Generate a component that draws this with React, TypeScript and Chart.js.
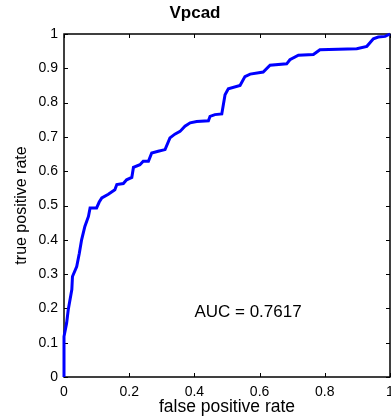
import React, { useEffect, useRef } from "react";
import { Chart, registerables } from "chart.js";

Chart.register(...registerables);

const chartTitle = "Vpcad";
const xAxisTitle = "false positive rate";
const yAxisTitle = "true positive rate";
const aucLabel = "AUC = 0.7617";
const aucPosition = [0.4, 0.19];

const fpr = [
  0, 0, 0.008, 0.013, 0.024, 0.026, 0.039, 0.047, 0.054, 0.064, 0.075, 0.08, 0.1, 0.108,
  0.116, 0.136, 0.156, 0.162, 0.182, 0.192, 0.208, 0.213, 0.233, 0.243, 0.259, 0.269,
  0.289, 0.31, 0.325, 0.34, 0.356, 0.371, 0.387, 0.407, 0.443, 0.448, 0.463, 0.484,
  0.494, 0.504, 0.54, 0.555, 0.571, 0.611, 0.632, 0.683, 0.693, 0.719, 0.765, 0.785,
  0.898, 0.929, 0.949, 0.964, 0.985, 1.0,
];
const tpr = [
  0, 0.118, 0.157, 0.196, 0.255, 0.293, 0.322, 0.361, 0.4, 0.439, 0.468, 0.493, 0.493, 0.51,
  0.522, 0.533, 0.546, 0.561, 0.564, 0.575, 0.582, 0.611, 0.619, 0.629, 0.629, 0.653,
  0.658, 0.663, 0.697, 0.708, 0.716, 0.731, 0.741, 0.745, 0.747, 0.76, 0.765, 0.767,
  0.823, 0.84, 0.85, 0.876, 0.883, 0.889, 0.909, 0.913, 0.925, 0.938, 0.94, 0.954,
  0.957, 0.964, 0.986, 0.991, 0.993, 1.0,
];
const xTicks = [0, 0.2, 0.4, 0.6, 0.8, 1];
const yTicks = [0, 0.1, 0.2, 0.3, 0.4, 0.5, 0.6, 0.7, 0.8, 0.9, 1];

const FONT = "'Liberation Sans', Arial, Helvetica, sans-serif";

const axesBoxPlugin = {
  id: "axesBox",
  beforeDatasetsDraw(chart: any) {
    const { ctx, chartArea } = chart;
    const { left, right, top, bottom } = chartArea;
    const xs = chart.scales.x;
    const ys = chart.scales.y;
    ctx.save();
    ctx.strokeStyle = "#000";
    ctx.lineWidth = 1;
    const tl = 4;
    ctx.beginPath();
    xTicks.forEach((v) => {
      const px = Math.round(xs.getPixelForValue(v)) + 0.5;
      ctx.moveTo(px, bottom);
      ctx.lineTo(px, bottom - tl);
      ctx.moveTo(px, top);
      ctx.lineTo(px, top + tl);
    });
    yTicks.forEach((v) => {
      const py = Math.round(ys.getPixelForValue(v)) + 0.5;
      ctx.moveTo(left, py);
      ctx.lineTo(left + tl, py);
      ctx.moveTo(right, py);
      ctx.lineTo(right - tl, py);
    });
    ctx.stroke();
    ctx.lineWidth = 1.5;
    ctx.strokeRect(left, top, right - left, bottom - top);
    ctx.restore();
  },
  afterDatasetsDraw(chart: any) {
    const { ctx } = chart;
    const xs = chart.scales.x;
    const ys = chart.scales.y;
    ctx.save();
    ctx.fillStyle = "#000";
    ctx.font = `17px ${FONT}`;
    ctx.textAlign = "left";
    ctx.textBaseline = "middle";
    ctx.fillText(aucLabel, xs.getPixelForValue(aucPosition[0]), ys.getPixelForValue(aucPosition[1]));
    ctx.restore();
  },
};

export default function App() {
  const canvasRef = useRef<HTMLCanvasElement | null>(null);

  useEffect(() => {
    if (!canvasRef.current) return;
    const points = fpr.map((x, i) => ({ x, y: tpr[i] }));
    const chart = new Chart(canvasRef.current, {
      type: "scatter",
      data: {
        datasets: [
          {
            data: points,
            showLine: true,
            borderColor: "#0000ff",
            backgroundColor: "#0000ff",
            borderWidth: 3,
            pointRadius: 0,
            tension: 0,
            clip: false as any,
          },
        ],
      },
      options: {
        responsive: false,
        animation: false,
        events: [],
        layout: { padding: { left: 0, right: 1, top: 0, bottom: 0 } },
        plugins: {
          legend: { display: false },
          tooltip: { enabled: false },
          title: {
            display: true,
            text: chartTitle,
            color: "#000",
            font: { family: FONT, size: 17, weight: "bold", lineHeight: 1.2 },
            padding: { top: 3.3, bottom: 10.3 },
          },
        },
        scales: {
          x: {
            type: "linear",
            min: 0,
            max: 1,
            afterBuildTicks: (scale: any) => {
              scale.ticks = xTicks.map((v) => ({ value: v }));
            },
            afterFit: (scale: any) => {
              scale.height = 41;
              scale.paddingLeft = 0;
              scale.paddingRight = 0;
            },
            grid: { display: false, drawTicks: false },
            border: { display: false },
            ticks: {
              color: "#000",
              padding: 7,
              maxRotation: 0,
              autoSkip: false,
              font: { family: FONT, size: 14 },
              callback: (v: any) => String(Number(Number(v).toFixed(1))),
            },
            title: {
              display: true,
              text: xAxisTitle,
              color: "#000",
              font: { family: FONT, size: 17.5, lineHeight: 1.2 },
              padding: { top: 0, bottom: 0 },
            },
          },
          y: {
            type: "linear",
            min: 0,
            max: 1,
            afterBuildTicks: (scale: any) => {
              scale.ticks = yTicks.map((v) => ({ value: v }));
            },
            afterFit: (scale: any) => {
              scale.width = 64;
              scale.paddingTop = 0;
              scale.paddingBottom = 0;
            },
            grid: { display: false, drawTicks: false },
            border: { display: false },
            ticks: {
              color: "#000",
              padding: 6,
              autoSkip: false,
              font: { family: FONT, size: 14 },
              callback: (v: any) => String(Number(Number(v).toFixed(1))),
            },
            title: {
              display: true,
              text: yAxisTitle,
              color: "#000",
              font: { family: FONT, size: 16, lineHeight: 1.2 },
              padding: { top: 12.4, bottom: 0 },
            },
          },
        },
      },
      plugins: [axesBoxPlugin],
    });
    return () => chart.destroy();
  }, []);

  return (
    <div style={{ position: "absolute", left: 0, top: 0, width: 391, height: 418, background: "#fff" }}>
      <canvas ref={canvasRef} width={391} height={418} style={{ display: "block", width: 391, height: 418 }} />
    </div>
  );
}
